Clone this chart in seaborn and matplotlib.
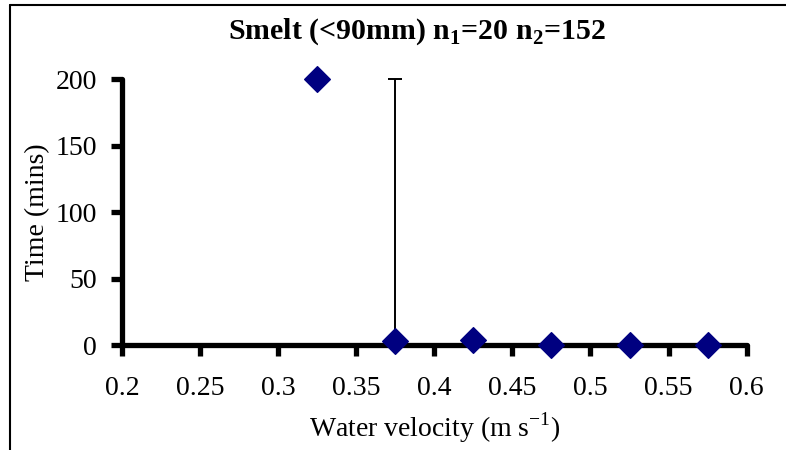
import matplotlib
matplotlib.use("Agg")
import matplotlib.pyplot as plt
from matplotlib.lines import Line2D
import seaborn as sns
import pandas as pd

# values
velocity = [0.325, 0.375, 0.425, 0.475, 0.525, 0.575]
time_mins = [200, 3, 4, 0, 0, 0]
err_upper = [0, 197, 4, 0, 0, 0]
x_ticks = [0.2, 0.25, 0.3, 0.35, 0.4, 0.45, 0.5, 0.55, 0.6]
y_ticks = [0, 50, 100, 150, 200]

sns.set_theme(style="white")
plt.rcParams['font.family'] = ['Liberation Serif', 'DejaVu Serif']
plt.rcParams['mathtext.fontset'] = 'custom'
plt.rcParams['mathtext.rm'] = 'Liberation Serif'
plt.rcParams['mathtext.bf'] = 'Liberation Serif:bold'
plt.rcParams['text.color'] = 'black'
plt.rcParams['axes.labelcolor'] = 'black'
plt.rcParams['xtick.color'] = 'black'
plt.rcParams['ytick.color'] = 'black'

df = pd.DataFrame({"velocity": velocity, "time": time_mins})

fig = plt.figure(figsize=(7.86, 4.5), dpi=100)
ax = fig.add_axes([0.155, 0.233, 0.795, 0.591])

ax.errorbar(velocity, time_mins, yerr=[[0] * len(err_upper), err_upper],
            fmt='none', ecolor='black', elinewidth=1.4, capsize=5,
            capthick=1.4, zorder=2, clip_on=False)
sns.scatterplot(data=df, x="velocity", y="time", marker="D", s=170,
                color="#000080", edgecolor="#000080", ax=ax, zorder=4,
                clip_on=False, legend=False)

ax.set_xlim(0.2, 0.6)
ax.set_ylim(0, 200)
ax.set_xticks(x_ticks)
ax.set_xticklabels([f"{v:g}" for v in x_ticks])
ax.set_yticks(y_ticks)
ax.tick_params(axis='both', direction='out', length=8, width=3.8,
               color='black', labelsize=20, bottom=True, left=True)
ax.tick_params(axis='x', pad=14)
ax.tick_params(axis='y', pad=10)
for side in ['top', 'right']:
    ax.spines[side].set_visible(False)
for side in ['left', 'bottom']:
    ax.spines[side].set_linewidth(3.8)
    ax.spines[side].set_color('black')
    ax.spines[side].set_capstyle('round')
ax.spines['bottom'].set_zorder(3)

ax.set_xlabel("Water velocity (m s$^{-1}$)", fontsize=20, labelpad=7)
ax.set_ylabel("Time (mins)", fontsize=20, labelpad=4)

fig.text(0.53, 0.929, r"Smelt (<90mm) n$_{\mathbf{1}}$=20 n$_{\mathbf{2}}$=152",
         ha='center', va='center', fontsize=21.5, fontweight='bold')

# chart area frame (top and left edges)
fig.add_artist(Line2D([0.0125, 0.0125], [0.0, 0.989], color='black', lw=1.5,
                      transform=fig.transFigure))
fig.add_artist(Line2D([0.0125, 1.0], [0.989, 0.989], color='black', lw=1.5,
                      transform=fig.transFigure))

fig.savefig("out.png", dpi=100)
